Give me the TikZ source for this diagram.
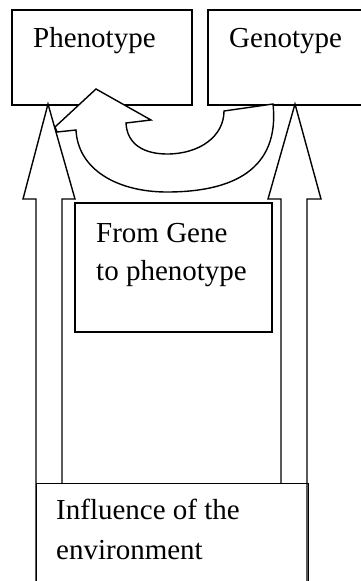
\documentclass[tikz,border=0pt]{standalone}
\usepackage{fontspec}
\setmainfont{Liberation Serif}
\begin{document}
\begin{tikzpicture}[x=1pt,y=-1pt,
  line join=miter,
  box/.style={draw, line width=1.4pt, fill=white, inner sep=0pt},
  txt/.style={anchor=base west, inner sep=0pt, font=\fontsize{29}{36}\selectfont},
  outl/.style={draw, line width=1.4pt}]
\useasboundingbox (0,0) rectangle (361,581);
\clip (0,0) rectangle (361,581);
% top boxes
\node[box, minimum width=180pt, minimum height=95pt] (pheno) at (102,57.5) {};
\node[box, minimum width=162pt, minimum height=95pt] (geno) at (289,57.5) {};
\node[txt] (phenoT) at (33,47) {Phenotype};
\node[txt] (genoT) at (229,47) {Genotype};
% middle box
\node[box, minimum width=197pt, minimum height=129pt] (gene) at (173.5,267.5) {};
\node[txt] (geneT1) at (96,242) {From Gene};
\node[txt] (geneT2) at (96,280) {to phenotype};
% environment box
\node[box, minimum width=272pt, minimum height=120pt, anchor=north west] (env) at (35.5,483) {};
\node[txt] (envT1) at (56,519) {Influence of the};
\node[txt] (envT2) at (56,559) {environment};
% curved arrow from genotype to phenotype
\draw[outl, fill=white] (55,127) -- (96,89) -- (151,120) -- (126,123)
  .. controls (127,145) and (145,154) .. (167,154)
  .. controls (200,154) and (224,136) .. (224,111)
  -- (273,104)
  .. controls (280,170) and (232,192) .. (167,192)
  .. controls (118,192) and (78,170) .. (76,130)
  -- (57,132) -- cycle;
% up arrows from environment
\coordinate (lb) at (36,600);
\coordinate (rb) at (307,600);
\draw[outl] (lb) -- (36,199) -- (23,199) -- (48,104) -- (75,199) -- (62,199) -- (62,483);
\draw[outl] (281,483) -- (281,199) -- (268,199) -- (295,104) -- (321,199) -- (307,199) -- (rb);
\end{tikzpicture}
\end{document}
